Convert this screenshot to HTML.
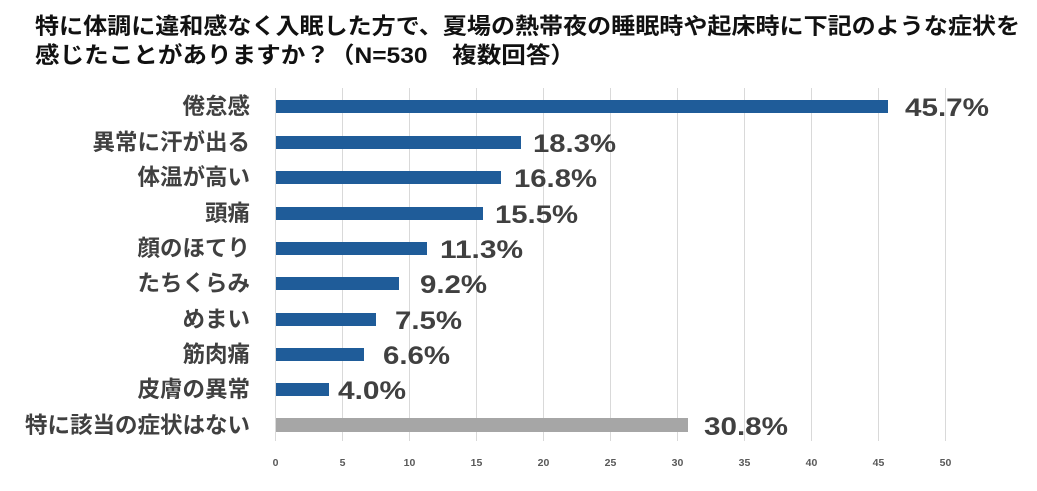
<!DOCTYPE html>
<html><head><meta charset="utf-8"><style>
body{margin:0;background:#fff;}
svg text{font-family:"Liberation Sans","Noto Sans CJK JP",sans-serif;font-weight:bold;}
</style></head><body>
<svg width="1037" height="486" viewBox="0 0 1037 486" xmlns="http://www.w3.org/2000/svg">
<rect width="1037" height="486" fill="#fff"/>
<text x="35" y="34" font-size="22.5" fill="#111" textLength="985" lengthAdjust="spacingAndGlyphs">特に体調に違和感なく入眠した方で、夏場の熱帯夜の睡眠時や起床時に下記のような症状を</text>
<text x="35" y="63" font-size="22.5" fill="#111" textLength="540" lengthAdjust="spacingAndGlyphs">感じたことがありますか？（N=530　複数回答）</text>
<g stroke="#d9d9d9" stroke-width="1">
<line x1="275.5" y1="88" x2="275.5" y2="441"/>
<line x1="342.5" y1="88" x2="342.5" y2="441"/>
<line x1="409.5" y1="88" x2="409.5" y2="441"/>
<line x1="476.5" y1="88" x2="476.5" y2="441"/>
<line x1="543.5" y1="88" x2="543.5" y2="441"/>
<line x1="610.5" y1="88" x2="610.5" y2="441"/>
<line x1="677.5" y1="88" x2="677.5" y2="441"/>
<line x1="744.5" y1="88" x2="744.5" y2="441"/>
<line x1="811.5" y1="88" x2="811.5" y2="441"/>
<line x1="878.5" y1="88" x2="878.5" y2="441"/>
<line x1="945.5" y1="88" x2="945.5" y2="441"/>
</g>
<g fill="#1f5c99">
<rect x="276" y="100" width="612" height="13"/>
<rect x="276" y="136" width="245" height="13"/>
<rect x="276" y="171" width="225" height="13"/>
<rect x="276" y="207" width="207" height="13"/>
<rect x="276" y="242" width="151" height="13"/>
<rect x="276" y="277" width="123" height="13"/>
<rect x="276" y="313" width="100" height="13"/>
<rect x="276" y="348" width="88" height="13"/>
<rect x="276" y="383" width="53" height="13"/>
</g>
<rect x="276" y="418" width="412" height="14" fill="#a6a6a6"/>
<g font-size="22.5" fill="#404040" text-anchor="end">
<text x="250" y="114">倦怠感</text>
<text x="250" y="150">異常に汗が出る</text>
<text x="250" y="185">体温が高い</text>
<text x="250" y="221">頭痛</text>
<text x="250" y="256">顔のほてり</text>
<text x="250" y="291">たちくらみ</text>
<text x="250" y="327">めまい</text>
<text x="250" y="362">筋肉痛</text>
<text x="250" y="397">皮膚の異常</text>
<text x="250" y="433">特に該当の症状はない</text>
</g>
<g font-size="25" fill="#404040" lengthAdjust="spacingAndGlyphs">
<text x="905" y="116" textLength="84" lengthAdjust="spacingAndGlyphs">45.7%</text>
<text x="533" y="152" textLength="83" lengthAdjust="spacingAndGlyphs">18.3%</text>
<text x="514" y="187" textLength="83" lengthAdjust="spacingAndGlyphs">16.8%</text>
<text x="495" y="223" textLength="83" lengthAdjust="spacingAndGlyphs">15.5%</text>
<text x="440" y="258" textLength="83" lengthAdjust="spacingAndGlyphs">11.3%</text>
<text x="420" y="293" textLength="67" lengthAdjust="spacingAndGlyphs">9.2%</text>
<text x="395" y="329" textLength="67" lengthAdjust="spacingAndGlyphs">7.5%</text>
<text x="383" y="364" textLength="67" lengthAdjust="spacingAndGlyphs">6.6%</text>
<text x="338" y="399" textLength="68" lengthAdjust="spacingAndGlyphs">4.0%</text>
<text x="704" y="435" textLength="84" lengthAdjust="spacingAndGlyphs">30.8%</text>
</g>
<g font-size="10.5" fill="#595959" text-anchor="middle">
<text x="275.5" y="466">0</text>
<text x="342.5" y="466">5</text>
<text x="409.5" y="466">10</text>
<text x="476.5" y="466">15</text>
<text x="543.5" y="466">20</text>
<text x="610.5" y="466">25</text>
<text x="677.5" y="466">30</text>
<text x="744.5" y="466">35</text>
<text x="811.5" y="466">40</text>
<text x="878.5" y="466">45</text>
<text x="945.5" y="466">50</text>
</g>
</svg>
</body></html>
